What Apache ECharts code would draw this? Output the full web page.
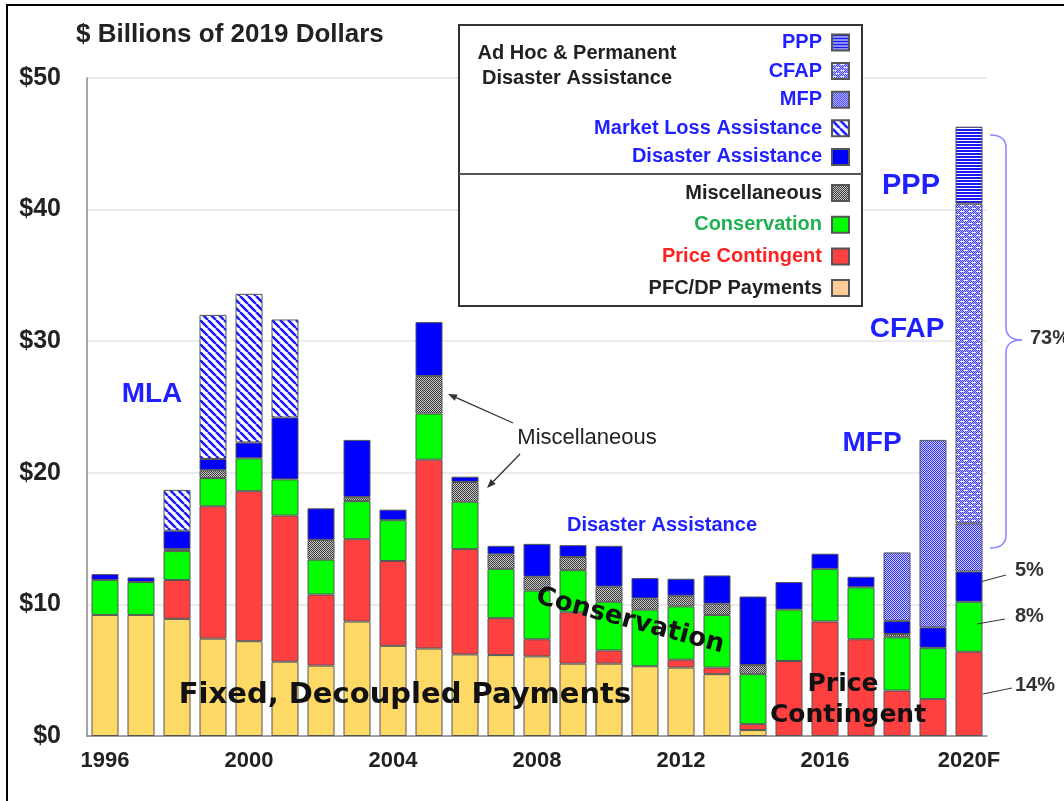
<!DOCTYPE html>
<html>
<head>
<meta charset="utf-8">
<script src="https://cdn.jsdelivr.net/npm/echarts@6/dist/echarts.min.js"></script>
<style>
  html, body { margin: 0; padding: 0; background: #fff; }
  #chart { width: 1064px; height: 801px; }
</style>
</head>
<body>
<div id="chart"></div>
<script>
// values in $ billions, stacked bottom -> top
const years = ['1996', '1997', '1998', '1999', '2000', '2001', '2002', '2003', '2004', '2005',
  '2006', '2007', '2008', '2009', '2010', '2011', '2012', '2013', '2014', '2015',
  '2016', '2017', '2018', '2019', '2020F'];
const shownYears = ['1996', '2000', '2004', '2008', '2012', '2016', '2020F'];

const pfcDp = [9.2, 9.2, 8.9, 7.4, 7.2, 5.65, 5.35, 8.7, 6.85, 6.65, 6.2, 6.15, 6.05, 5.5, 5.5, 5.3, 5.2, 4.7, 0.45, 0, 0, 0, 0, 0, 0];
const priceContingent = [0, 0, 2.95, 10.05, 11.4, 11.1, 5.4, 6.25, 6.45, 14.35, 8.0, 2.8, 1.3, 3.9, 1.0, 0, 0.6, 0.5, 0.45, 5.7, 8.7, 7.35, 3.45, 2.8, 6.4];
const conservation = [2.65, 2.5, 2.2, 2.15, 2.5, 2.75, 2.65, 2.9, 3.1, 3.5, 3.6, 3.75, 3.7, 3.2, 3.7, 4.3, 4.05, 4.0, 3.8, 3.9, 4.0, 3.95, 4.05, 3.9, 3.8];
const miscellaneous = [0, 0, 0.15, 0.6, 0, 0, 1.5, 0.3, 0, 2.85, 1.5, 1.1, 1.05, 1.0, 1.15, 0.85, 0.8, 0.85, 0.7, 0, 0, 0, 0.25, 0, 0];
const disasterAssistance = [0.45, 0.35, 1.4, 0.85, 1.2, 4.7, 2.4, 4.35, 0.8, 4.1, 0.4, 0.65, 2.5, 0.9, 3.1, 1.55, 1.3, 2.15, 5.2, 2.1, 1.15, 0.8, 1.0, 1.55, 2.3];
const marketLoss = [0, 0, 3.1, 10.95, 11.3, 7.45, 0, 0, 0, 0, 0, 0, 0, 0, 0, 0, 0, 0, 0, 0, 0, 0, 0, 0, 0];
const mfp = [0, 0, 0, 0, 0, 0, 0, 0, 0, 0, 0, 0, 0, 0, 0, 0, 0, 0, 0, 0, 0, 0, 5.2, 14.25, 3.65];
const cfap = [0, 0, 0, 0, 0, 0, 0, 0, 0, 0, 0, 0, 0, 0, 0, 0, 0, 0, 0, 0, 0, 0, 0, 0, 24.3];
const ppp = [0, 0, 0, 0, 0, 0, 0, 0, 0, 0, 0, 0, 0, 0, 0, 0, 0, 0, 0, 0, 0, 0, 0, 0, 5.85];

const ARIAL = '"Liberation Sans", Arial, sans-serif';
const HEAVY = '"DejaVu Sans", Verdana, sans-serif';
const BLUE = '#1f1fff';

function makePattern(w, h, draw) {
  const c = document.createElement('canvas');
  c.width = w;
  c.height = h;
  draw(c.getContext('2d'));
  return { image: c, repeat: 'repeat' };
}

const miscFill = makePattern(2, 2, ctx => {
  ctx.fillStyle = '#c8c8c8'; ctx.fillRect(0, 0, 2, 2);
  ctx.fillStyle = '#3a3a3a'; ctx.fillRect(0, 0, 1, 1); ctx.fillRect(1, 1, 1, 1);
});
const mlaFill = makePattern(8, 8, ctx => {
  ctx.fillStyle = '#fff'; ctx.fillRect(0, 0, 8, 8);
  ctx.strokeStyle = '#1a1aff'; ctx.lineWidth = 2.6;
  for (let k = -1; k <= 1; k++) {
    ctx.beginPath(); ctx.moveTo(k * 8, 0); ctx.lineTo(k * 8 + 8, 8); ctx.stroke();
  }
});
const mfpFill = makePattern(2, 2, ctx => {
  ctx.fillStyle = '#d4d4ff'; ctx.fillRect(0, 0, 2, 2);
  ctx.fillStyle = '#2a2aff'; ctx.fillRect(0, 0, 1, 1); ctx.fillRect(1, 1, 1, 1);
});
const cfapFill = makePattern(8, 6, ctx => {
  ctx.fillStyle = '#c8c8ff'; ctx.fillRect(0, 0, 8, 6);
  ctx.fillStyle = '#3030ff';
  for (let y = 0; y < 6; y++) for (let x = (y % 2); x < 8; x += 2) ctx.fillRect(x, y, 1, 1);
  ctx.fillStyle = '#fff';
  ctx.fillRect(0, 1, 4, 1);
  ctx.fillRect(4, 4, 4, 1);
});
const pppFill = makePattern(1, 3, ctx => {
  ctx.fillStyle = '#1a1aee'; ctx.fillRect(0, 0, 1, 2);
  ctx.fillStyle = '#fff'; ctx.fillRect(0, 2, 1, 1);
});

const layers = [
  { name: 'PFC/DP Payments', data: pfcDp, color: '#FFD966' },
  { name: 'Price Contingent', data: priceContingent, color: '#FF4040' },
  { name: 'Conservation', data: conservation, color: '#00FF00' },
  { name: 'Miscellaneous', data: miscellaneous, color: miscFill },
  { name: 'Disaster Assistance', data: disasterAssistance, color: '#0000FF' },
  { name: 'Market Loss Assistance', data: marketLoss, color: mlaFill },
  { name: 'MFP', data: mfp, color: mfpFill },
  { name: 'CFAP', data: cfap, color: cfapFill },
  { name: 'PPP', data: ppp, color: pppFill }
];

const series = layers.map(l => ({
  name: l.name,
  type: 'bar',
  stack: 'total',
  barWidth: 27,
  data: l.data.map(v => (v === 0 ? null : v)),
  itemStyle: { color: l.color, borderColor: '#555', borderWidth: 1 },
  emphasis: { disabled: true }
}));

function txt(text, x, y, font, color, extra) {
  return Object.assign({
    type: 'text', x: x, y: y, z: 100,
    style: { text: text, font: font, fill: color, align: 'center', verticalAlign: 'middle' }
  }, extra || {});
}

function arrow(x1, y1, x2, y2) {
  const a = Math.atan2(y2 - y1, x2 - x1), L = 9, W = 3.5;
  const bx = x2 - L * Math.cos(a), by = y2 - L * Math.sin(a);
  return [
    { type: 'line', z: 100, shape: { x1: x1, y1: y1, x2: bx, y2: by }, style: { stroke: '#333', lineWidth: 1.3 } },
    { type: 'polygon', z: 100, shape: { points: [[x2, y2], [bx + W * Math.sin(a), by - W * Math.cos(a)], [bx - W * Math.sin(a), by + W * Math.cos(a)]] }, style: { fill: '#333' } }
  ];
}

function seg(x1, y1, x2, y2, color, w) {
  return { type: 'line', z: 100, shape: { x1: x1, y1: y1, x2: x2, y2: y2 }, style: { stroke: color || '#333', lineWidth: w || 1 } };
}

function curve(x1, y1, cx, cy, x2, y2) {
  return { type: 'bezierCurve', z: 100, shape: { x1: x1, y1: y1, cpx1: cx, cpy1: cy, x2: x2, y2: y2 }, style: { fill: 'none', stroke: '#8c8cff', lineWidth: 1.6 } };
}

const legendBase = {
  orient: 'vertical',
  right: 214,
  align: 'right',
  icon: 'rect',
  padding: 0,
  itemWidth: 17,
  itemHeight: 16,
  selectedMode: false,
  textStyle: { fontFamily: ARIAL, fontSize: 20, fontWeight: 'bold', padding: [0, 5, 0, 0] }
};

const option = {
  animation: false,
  backgroundColor: '#fff',
  grid: { left: 87, right: 77, top: 78, bottom: 65 },
  legend: [
    Object.assign({}, legendBase, {
      top: 32.5,
      itemGap: 8.6,
      data: ['PPP', 'CFAP', 'MFP', 'Market Loss Assistance', 'Disaster Assistance']
        .map(n => ({ name: n, textStyle: { color: BLUE } }))
    }),
    Object.assign({}, legendBase, {
      top: 183,
      itemGap: 11.7,
      data: [
        { name: 'Miscellaneous', textStyle: { color: '#222' } },
        { name: 'Conservation', textStyle: { color: '#20b050' } },
        { name: 'Price Contingent', textStyle: { color: '#ff2020' } },
        { name: 'PFC/DP Payments', textStyle: { color: '#222' }, itemStyle: { color: '#FFCC99' } }
      ]
    })
  ],
  xAxis: {
    type: 'category',
    data: years,
    axisLine: { lineStyle: { color: '#888', width: 1.5 } },
    axisTick: { interval: 0, length: 7, lineStyle: { color: '#888' } },
    axisLabel: {
      interval: 0,
      margin: 14,
      fontFamily: ARIAL,
      fontSize: 22,
      fontWeight: 'bold',
      color: '#222',
      formatter: v => (shownYears.includes(v) ? v : '')
    }
  },
  yAxis: {
    type: 'value',
    min: 0,
    max: 50,
    interval: 10,
    axisLine: { show: true, lineStyle: { color: '#888', width: 1.5 } },
    axisTick: { show: false },
    splitLine: { lineStyle: { color: '#e4e4e4', width: 1.5 } },
    axisLabel: {
      margin: 26,
      fontFamily: ARIAL,
      fontSize: 25,
      fontWeight: 'bold',
      color: '#222',
      formatter: '${value}'
    }
  },
  series: series,
  graphic: [
    { type: 'rect', z: -1, silent: true, shape: { x: 7, y: 5, width: 1200, height: 1000 }, style: { fill: 'none', stroke: '#000', lineWidth: 2 } },
    { type: 'rect', z: 1, shape: { x: 459, y: 25, width: 403, height: 281 }, style: { fill: '#fff', stroke: '#333', lineWidth: 2 } },
    { type: 'line', z: 1, shape: { x1: 459, y1: 174, x2: 862, y2: 174 }, style: { stroke: '#555', lineWidth: 2 } },
    txt('Ad Hoc & Permanent', 577, 53, 'bold 20px ' + ARIAL, '#222'),
    txt('Disaster Assistance', 577, 78, 'bold 20px ' + ARIAL, '#222'),
    txt('$ Billions of 2019 Dollars', 76, 35, 'bold 26px ' + ARIAL, '#222', {}),
    txt('MLA', 152, 394, 'bold 28px ' + ARIAL, BLUE),
    txt('Miscellaneous', 587, 438, '22px ' + ARIAL, '#222'),
    txt('Disaster Assistance', 662, 525, 'bold 20px ' + ARIAL, BLUE),
    txt('Conservation', 630, 621, 'bold 26px ' + HEAVY, '#111', { rotation: -0.26 }),
    txt('Fixed, Decoupled Payments', 405, 695, 'bold 29px ' + HEAVY, '#111'),
    txt('Price', 843, 684, 'bold 25px ' + HEAVY, '#111'),
    txt('Contingent', 848, 715, 'bold 25px ' + HEAVY, '#111'),
    txt('PPP', 911, 186, 'bold 29px ' + ARIAL, BLUE),
    txt('CFAP', 907, 329, 'bold 28px ' + ARIAL, BLUE),
    txt('MFP', 872, 443, 'bold 28px ' + ARIAL, BLUE),
    txt('73%', 1030, 338, 'bold 20px ' + ARIAL, '#333'),
    txt('5%', 1015, 570, 'bold 20px ' + ARIAL, '#333'),
    txt('8%', 1015, 616, 'bold 20px ' + ARIAL, '#333'),
    txt('14%', 1015, 685, 'bold 20px ' + ARIAL, '#333'),
    seg(980, 582, 1006, 575),
    seg(977, 624, 1005, 619),
    seg(983, 694, 1012, 688),
    // brace over the pandemic aid
    curve(990, 135, 1006, 135, 1006, 148),
    seg(1006, 148, 1006, 327, '#8c8cff', 1.6),
    curve(1006, 327, 1006, 340, 1022, 340),
    curve(1022, 340, 1006, 340, 1006, 353),
    seg(1006, 353, 1006, 535, '#8c8cff', 1.6),
    curve(1006, 535, 1006, 548, 990, 548)
  ].concat(arrow(513, 423, 448, 394), arrow(520, 454, 487, 488))
};

// left-aligned texts
option.graphic.forEach(g => {
  if (g.type === 'text' && (g.style.text.indexOf('%') >= 0 || g.style.text.indexOf('Billions') >= 0)) g.style.align = 'left';
});

const chart = echarts.init(document.getElementById('chart'));
chart.setOption(option);
</script>
</body>
</html>
